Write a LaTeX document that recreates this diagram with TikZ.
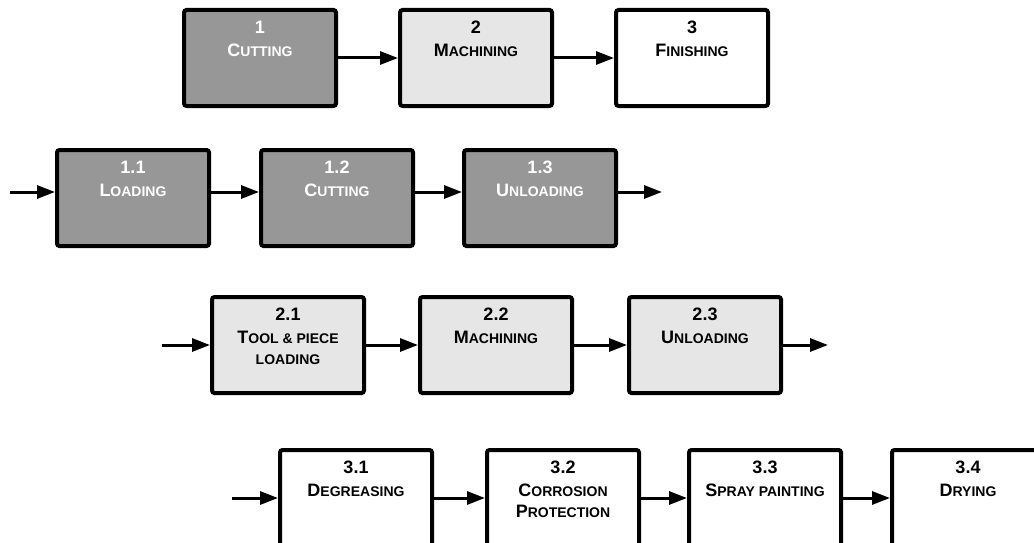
\documentclass[tikz,border=0pt]{standalone}
\usepackage{fontspec}
\setmainfont{Liberation Sans}
\usetikzlibrary{arrows.meta}

\definecolor{stagedark}{RGB}{151,151,151}
\definecolor{stagelight}{RGB}{230,230,230}

% fake small caps: big initial, smaller capitals for the rest
\newcommand{\BigCap}[1]{{\fontsize{18}{21}\selectfont #1}}
\newcommand{\SmallCap}[1]{{\fontsize{14}{21}\selectfont #1}}
\newcommand{\SCword}[2]{\BigCap{#1}\SmallCap{#2}}

% box contents: number on top, title lines below
\newcommand{\boxtext}[2]{%
  \parbox[c][96pt][t]{152pt}{\fontsize{18}{21}\selectfont\bfseries\centering
    \rule{0pt}{23pt}#1\par\vspace{2pt}#2\par}}

\tikzset{
  stagebox/.style={draw=black, line width=4pt, rounded corners=2.5pt,
    inner sep=0pt, anchor=north west},
  darkbox/.style={stagebox, fill=stagedark, text=white},
  lightbox/.style={stagebox, fill=stagelight, text=black},
  whitebox/.style={stagebox, fill=white, text=black},
  flow/.style={line width=3pt, -{Triangle[length=18pt,width=13pt]}},
}

\begin{document}
\begin{tikzpicture}[x=1pt, y=-1pt]
\clip (0,0) rectangle (1034,543);
\fill[white] (0,0) rectangle (1034,543);

% top level stages
\node[darkbox]  (s1) at (182,8) {\boxtext{1}{\SCword{C}{UTTING}}};
\node[lightbox] (s2) at (398,8) {\boxtext{2}{\SCword{M}{ACHINING}}};
\node[whitebox] (s3) at (614,8) {\boxtext{3}{\SCword{F}{INISHING}}};
\draw[flow] (s1.east) -- (s2.west);
\draw[flow] (s2.east) -- (s3.west);

% cutting sub-steps
\node[darkbox] (s11) at (55,148)  {\boxtext{1.1}{\SCword{L}{OADING}}};
\node[darkbox] (s12) at (259,148) {\boxtext{1.2}{\SCword{C}{UTTING}}};
\node[darkbox] (s13) at (462,148) {\boxtext{1.3}{\SCword{U}{NLOADING}}};
\coordinate (in1) at (10,192);
\coordinate (out1) at (662,192);
\draw[flow] (in1) -- ([yshift=6pt]s11.west);
\draw[flow] ([yshift=6pt]s11.east) -- ([yshift=6pt]s12.west);
\draw[flow] ([yshift=6pt]s12.east) -- ([yshift=6pt]s13.west);
\draw[flow] ([yshift=6pt]s13.east) -- (out1);

% machining sub-steps
\node[lightbox] (s21) at (210,295) {\boxtext{2.1}{\SCword{T}{OOL \& PIECE}\\\SmallCap{LOADING}}};
\node[lightbox] (s22) at (418,295) {\boxtext{2.2}{\SCword{M}{ACHINING}}};
\node[lightbox] (s23) at (627,295) {\boxtext{2.3}{\SCword{U}{NLOADING}}};
\coordinate (in2) at (162,345);
\coordinate (out2) at (828,345);
\draw[flow] (in2) -- (s21.west);
\draw[flow] (s21.east) -- (s22.west);
\draw[flow] (s22.east) -- (s23.west);
\draw[flow] (s23.east) -- (out2);

% finishing sub-steps
\node[whitebox] (s31) at (278,448) {\boxtext{3.1}{\SCword{D}{EGREASING}}};
\node[whitebox] (s32) at (485,448) {\boxtext{3.2}{\SCword{C}{ORROSION}\\\SCword{P}{ROTECTION}}};
\node[whitebox] (s33) at (687,448) {\boxtext{3.3}{\SCword{S}{PRAY PAINTING}}};
\node[whitebox] (s34) at (890,448) {\boxtext{3.4}{\SCword{D}{RYING}}};
\coordinate (in3) at (232,498);
\draw[flow] (in3) -- (s31.west);
\draw[flow] (s31.east) -- (s32.west);
\draw[flow] (s32.east) -- (s33.west);
\draw[flow] (s33.east) -- (s34.west);
\end{tikzpicture}
\end{document}
